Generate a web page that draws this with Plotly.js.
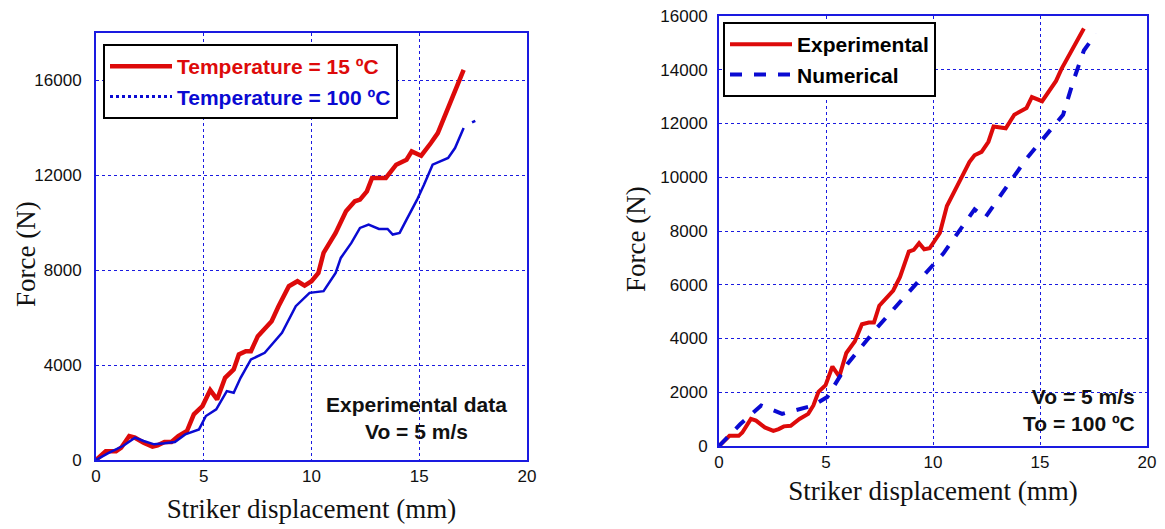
<!DOCTYPE html>
<html>
<head>
<meta charset="utf-8">
<script src="https://cdn.plot.ly/plotly-3.0.1.min.js"></script>
<style>html,body{margin:0;padding:0;background:#fff}#chart{width:1165px;height:529px}</style>
</head>
<body>
<div id="chart"></div>
<script>
// Left chart: experimental data at two temperatures
const leftT15X = [0,0.45,0.93,1.17,1.54,1.81,2.21,2.62,2.86,3.18,3.5,3.82,4.22,4.54,4.94,5.3,5.62,5.99,6.39,6.63,6.95,7.19,7.51,8.15,8.47,8.95,9.35,9.68,10.0,10.32,10.56,11.12,11.6,12.01,12.25,12.57,12.81,13.45,13.93,14.41,14.65,15.09,15.54,15.86,17.06];
const leftT15Y = [0,365,365,519,1010,940,730,561,617,758,758,1010,1221,1923,2274,2947,2554,3467,3818,4449,4589,4589,5221,5853,6484,7326,7537,7354,7537,7888,8730,9572,10484,10905,10975,11326,11888,11888,12449,12660,13011,12828,13361,13782,16449];
const leftT100X = [0,0.61,1.25,1.81,2.21,2.7,3.18,3.66,4.14,4.78,5.1,5.58,6.07,6.39,6.71,7.19,7.83,8.63,9.27,9.91,10.56,11.12,11.36,11.85,12.25,12.65,13.13,13.53,13.77,14.09,14.41,14.9,15.22,15.62,16.34,16.66,17.06,null,17.45,17.6];
const leftT100Y = [0,309,589,940,800,660,702,758,1080,1291,1853,2133,2905,2835,3467,4238,4519,5361,6484,7046,7116,7888,8519,9151,9782,9923,9741,9741,9502,9572,10133,10975,11607,12449,12730,13151,13993,null,14230,14300];

// Right chart: experimental vs numerical at 100 ºC
const rightExpX = [0,0.49,0.68,0.92,1.09,1.49,1.73,2.14,2.54,2.79,3.03,3.35,3.76,4.17,4.41,4.65,4.98,5.3,5.62,5.95,6.35,6.68,7.0,7.24,7.49,8.14,8.46,8.87,9.1,9.35,9.59,9.84,10.32,10.65,11.3,11.7,11.94,12.27,12.59,12.83,13.4,13.8,14.37,14.62,15.1,15.75,16.0,17.05];
const rightExpY = [0,377,377,377,500,1006,943,692,566,629,730,755,1006,1195,1509,2013,2264,2956,2579,3460,3899,4528,4591,4591,5220,5786,6289,7233,7296,7547,7320,7358,7925,8931,9937,10566,10818,10943,11321,11887,11824,12327,12579,12981,12830,13585,14025,15535];
const rightNumX = [0,1.0,1.97,2.95,4.41,5.06,6.03,7.32,8.3,9.6,10.49,11.38,11.94,12.43,12.91,13.64,14.37,15.43,16.08,16.56,17.05,17.62];
const rightNumY = [0,818,1509,1195,1509,1824,3082,4340,5220,6352,7170,8176,8805,8490,9057,9874,10692,11698,12327,13585,14717,15346];

const leftNames = ['Temperature = 15 ºC','Temperature = 100 ºC'];
const rightNames = ['Experimental','Numerical'];
const xTitle = 'Striker displacement (mm)';
const yTitle = 'Force (N)';
const leftNote = 'Experimental data<br>Vo = 5 m/s';
const rightNote = 'Vo = 5 m/s<br>To = 100 ºC';

const RED = '#dd0a0a', BLUE = '#0a0ad2', AXBLUE = '#1a1ae0';

const traces = [
  {x:leftT15X, y:leftT15Y, xaxis:'x', yaxis:'y', mode:'lines', name:leftNames[0], legend:'legend',
   line:{color:RED, width:4.5}},
  {x:leftT100X, y:leftT100Y, xaxis:'x', yaxis:'y', mode:'lines', name:leftNames[1], legend:'legend',
   showlegend:false, connectgaps:false, line:{color:BLUE, width:2.5}},
  {x:[null], y:[null], xaxis:'x', yaxis:'y', mode:'lines', name:leftNames[1], legend:'legend',
   line:{color:BLUE, width:3, dash:'dot'}},
  {x:rightExpX, y:rightExpY, xaxis:'x2', yaxis:'y2', mode:'lines', name:rightNames[0], legend:'legend2',
   line:{color:RED, width:4}},
  {x:rightNumX, y:rightNumY, xaxis:'x2', yaxis:'y2', mode:'lines', name:rightNames[1], legend:'legend2',
   line:{color:BLUE, width:4, dash:'dash'}}
];

const tickFont = {family:'Liberation Sans, Arial, sans-serif', size:17, color:'#111'};
const titleFont = {family:'Liberation Serif, Times New Roman, serif', size:27, color:'#111'};
function ax(extra){
  return Object.assign({
    showline:true, linecolor:AXBLUE, linewidth:2, mirror:true,
    showgrid:true, gridcolor:AXBLUE, gridwidth:1, griddash:'dot',
    zeroline:false, ticks:'', tickfont:tickFont, tickformat:'d', fixedrange:true
  }, extra);
}

const legendFont = {family:'Liberation Sans, Arial, sans-serif', size:21, color:'#000', weight:'bold'};
const noteFont = {family:'Liberation Sans, Arial, sans-serif', size:21, color:'#111', weight:'bold'};

const layout = {
  width:1165, height:529,
  margin:{l:0, r:0, t:0, b:0},
  paper_bgcolor:'#fff', plot_bgcolor:'#fff',
  xaxis: ax({domain:[96/1165, 527/1165], range:[0,20], dtick:5, anchor:'y',
    title:{text:xTitle, font:titleFont, standoff:14}}),
  yaxis: ax({domain:[69/529, 496/529], range:[0,18000], dtick:4000, anchor:'x', ticklabelstandoff:9}),
  xaxis2: ax({domain:[719/1165, 1147/1165], range:[0,20], dtick:5, anchor:'y2',
    title:{text:xTitle, font:titleFont, standoff:10}}),
  yaxis2: ax({domain:[83/529, 513/529], range:[0,16000], dtick:2000, anchor:'x2', ticklabelstandoff:6}),
  legend:{x:103/1165, y:1-44/529, xanchor:'left', yanchor:'top', bgcolor:'#fff',
    bordercolor:'#000', borderwidth:2, font:legendFont, itemwidth:62, tracegroupgap:0},
  legend2:{x:723/1165, y:1-22/529, xanchor:'left', yanchor:'top', bgcolor:'#fff',
    bordercolor:'#000', borderwidth:2, font:legendFont, itemwidth:62, tracegroupgap:0},
  annotations:[
    {xref:'paper', yref:'paper', x:26/1165, y:1-254/529, xanchor:'center', yanchor:'middle',
     text:yTitle, textangle:-90, showarrow:false, font:titleFont},
    {xref:'paper', yref:'paper', x:636/1165, y:1-239/529, xanchor:'center', yanchor:'middle',
     text:yTitle, textangle:-90, showarrow:false, font:titleFont},
    {xref:'x', yref:'y', x:14.85, y:1770, text:leftNote, showarrow:false, align:'center',
     font:noteFont},
    {xref:'x2', yref:'y2', x:19.55, y:1340, xanchor:'right', text:rightNote, showarrow:false, align:'right',
     font:noteFont}
  ],
  showlegend:true
};

Plotly.newPlot('chart', traces, layout, {staticPlot:true, displayModeBar:false}).then(function(){
  document.querySelectorAll('g.traces').forEach(function(g){
    const t = g.querySelector('.legendtext');
    const line = g.querySelector('.js-line');
    if(t && line){ t.style.fill = line.style.stroke; }
  });
});
</script>
</body>
</html>
